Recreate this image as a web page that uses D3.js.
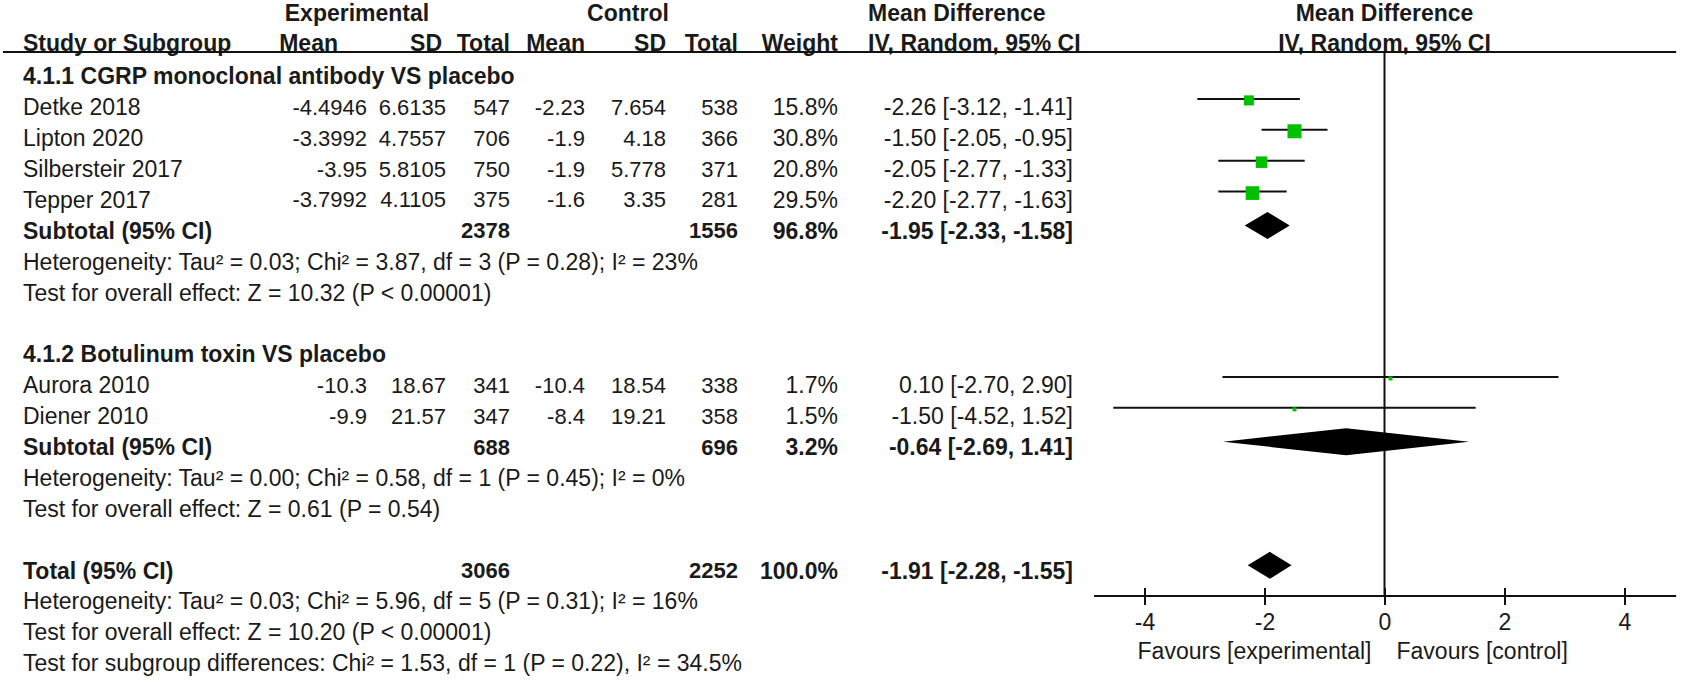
<!DOCTYPE html>
<html>
<head>
<meta charset="utf-8">
<script src="https://cdn.jsdelivr.net/npm/d3@7"></script>
<style>
  body { margin: 0; background: #fff; }
  svg { display: block; font-family: "Liberation Sans", Arial, sans-serif; }
  text { fill: #1a1a1a; }
</style>
</head>
<body>
<div id="chart"></div>
<script>
// study level data
const studies = ["Detke 2018", "Lipton 2020", "Silbersteir 2017", "Tepper 2017", "Aurora 2010", "Diener 2010"];
const studyGroup = [0, 0, 0, 0, 1, 1];
const expMean = [-4.4946, -3.3992, -3.95, -3.7992, -10.3, -9.9];
const expSD = [6.6135, 4.7557, 5.8105, 4.1105, 18.67, 21.57];
const expTotal = [547, 706, 750, 375, 341, 347];
const ctrlMean = [-2.23, -1.9, -1.9, -1.6, -10.4, -8.4];
const ctrlSD = [7.654, 4.18, 5.778, 3.35, 18.54, 19.21];
const ctrlTotal = [538, 366, 371, 281, 338, 358];
const weight = [15.8, 30.8, 20.8, 29.5, 1.7, 1.5];
const md = [-2.26, -1.5, -2.05, -2.2, 0.1, -1.5];
const mdLow = [-3.12, -2.05, -2.77, -2.77, -2.7, -4.52];
const mdHigh = [-1.41, -0.95, -1.33, -1.63, 2.9, 1.52];

// subgroups
const groupNames = ["4.1.1 CGRP monoclonal antibody VS placebo", "4.1.2 Botulinum toxin VS placebo"];
const subExpTotal = [2378, 688];
const subCtrlTotal = [1556, 696];
const subWeight = [96.8, 3.2];
const subMd = [-1.95, -0.64];
const subLow = [-2.33, -2.69];
const subHigh = [-1.58, 1.41];
const subHet = [
  "Heterogeneity: Tau² = 0.03; Chi² = 3.87, df = 3 (P = 0.28); I² = 23%",
  "Heterogeneity: Tau² = 0.00; Chi² = 0.58, df = 1 (P = 0.45); I² = 0%"
];
const subTest = ["Test for overall effect: Z = 10.32 (P < 0.00001)", "Test for overall effect: Z = 0.61 (P = 0.54)"];

// overall
const totExpTotal = 3066;
const totCtrlTotal = 2252;
const totWeight = 100.0;
const totMd = -1.91;
const totLow = -2.28;
const totHigh = -1.55;
const totNotes = [
  "Heterogeneity: Tau² = 0.03; Chi² = 5.96, df = 5 (P = 0.31); I² = 16%",
  "Test for overall effect: Z = 10.20 (P < 0.00001)",
  "Test for subgroup differences: Chi² = 1.53, df = 1 (P = 0.22), I² = 34.5%"
];

const tickValues = [-4, -2, 0, 2, 4];
const axisDomain = [-4.84, 4.86];

const width = 1699, height = 683;
const fs = 23;   // labels
const fsNum = 22; // number columns

const svg = d3.select("#chart").append("svg").attr("width", width).attr("height", height);

// column right edges
const col = {
  study: 23, eMeanHead: 338, eMean: 367, eSDHead: 442, eSD: 446, eN: 510,
  cMean: 585, cSD: 666, cN: 738, w: 838, ci: 1073, mdHead: 868
};

const x = d3.scaleLinear().domain([-4, 4]).range([1144.5, 1624.5]);
const rowY = d3.scaleLinear().domain([0, 19]).range([76, 663]);
const axisY = 596;
const headY = 52;

function ciText(m, l, h) {
  return `${m.toFixed(2)} [${l.toFixed(2)}, ${h.toFixed(2)}]`;
}

function addText(tx, ty, str, anchor, bold, size) {
  return svg.append("text")
    .attr("x", tx)
    .attr("y", ty)
    .attr("dy", "0.36em")
    .attr("text-anchor", anchor || "start")
    .attr("font-weight", bold ? "bold" : "normal")
    .attr("font-size", size || fs)
    .text(str);
}

// headers
addText(357, 13, "Experimental", "middle", true);
addText(628, 13, "Control", "middle", true);
addText(col.mdHead, 13, "Mean Difference", "start", true);
addText(x(0), 13, "Mean Difference", "middle", true);
addText(col.study, 43, "Study or Subgroup", "start", true);
addText(col.eMeanHead, 43, "Mean", "end", true);
addText(col.eSDHead, 43, "SD", "end", true);
addText(col.eN, 43, "Total", "end", true);
addText(col.cMean, 43, "Mean", "end", true);
addText(col.cSD, 43, "SD", "end", true);
addText(col.cN, 43, "Total", "end", true);
addText(col.w, 43, "Weight", "end", true);
addText(col.mdHead, 43, "IV, Random, 95% CI", "start", true);
addText(x(0), 43, "IV, Random, 95% CI", "middle", true);

svg.append("line")
  .attr("x1", 3).attr("x2", x(axisDomain[1]))
  .attr("y1", headY).attr("y2", headY)
  .attr("stroke", "#111").attr("stroke-width", 2);

// row index of each study inside its group block
const groupStart = [0, 9];
const studyRow = [];
let counter = [0, 0];
studies.forEach((s, i) => {
  const g = studyGroup[i];
  counter[g] += 1;
  studyRow.push(groupStart[g] + counter[g]);
});

// zero line
svg.append("line")
  .attr("x1", x(0)).attr("x2", x(0))
  .attr("y1", headY).attr("y2", axisY)
  .attr("stroke", "#111").attr("stroke-width", 2);

// group blocks
groupNames.forEach((name, g) => {
  const r0 = groupStart[g];
  const nStud = studyGroup.filter((d) => d === g).length;
  const rs = r0 + nStud + 1;
  addText(col.study, rowY(r0), name, "start", true);
  addText(col.study, rowY(rs), "Subtotal (95% CI)", "start", true);
  addText(col.eN, rowY(rs), subExpTotal[g], "end", true, fsNum);
  addText(col.cN, rowY(rs), subCtrlTotal[g], "end", true, fsNum);
  addText(col.w, rowY(rs), subWeight[g].toFixed(1) + "%", "end", true);
  addText(col.ci, rowY(rs), ciText(subMd[g], subLow[g], subHigh[g]), "end", true);
  addText(col.study, rowY(rs + 1), subHet[g]);
  addText(col.study, rowY(rs + 2), subTest[g]);
});

// study rows
studies.forEach((s, i) => {
  const yy = rowY(studyRow[i]);
  addText(col.study, yy, s);
  addText(col.eMean, yy, expMean[i], "end", false, fsNum);
  addText(col.eSD, yy, expSD[i], "end", false, fsNum);
  addText(col.eN, yy, expTotal[i], "end", false, fsNum);
  addText(col.cMean, yy, ctrlMean[i], "end", false, fsNum);
  addText(col.cSD, yy, ctrlSD[i], "end", false, fsNum);
  addText(col.cN, yy, ctrlTotal[i], "end", false, fsNum);
  addText(col.w, yy, weight[i].toFixed(1) + "%", "end");
  addText(col.ci, yy, ciText(md[i], mdLow[i], mdHigh[i]), "end");
});

const boxSize = d3.scaleSqrt().domain([0, 30.8]).range([0, 14]);
const side = (i) => Math.max(4, boxSize(weight[i]));

const rows = svg.selectAll("g.study")
  .data(studies)
  .enter()
  .append("g")
  .attr("class", "study");

rows.append("line")
  .attr("x1", (d, i) => x(mdLow[i]))
  .attr("x2", (d, i) => x(mdHigh[i]))
  .attr("y1", (d, i) => rowY(studyRow[i]) - 8)
  .attr("y2", (d, i) => rowY(studyRow[i]) - 8)
  .attr("stroke", "#111")
  .attr("stroke-width", 2);

rows.append("rect")
  .attr("x", (d, i) => x(md[i]) - side(i) / 2)
  .attr("y", (d, i) => rowY(studyRow[i]) - 6.5 - side(i) / 2)
  .attr("width", (d, i) => side(i))
  .attr("height", (d, i) => side(i))
  .attr("fill", "#00c000");

// diamonds
function diamond(m, l, h, yy) {
  const cy = yy - 5, hh = 13.5;
  svg.append("path")
    .attr("d", `M${x(l)},${cy} L${x(m)},${cy - hh} L${x(h)},${cy} L${x(m)},${cy + hh} Z`)
    .attr("fill", "#000");
}
diamond(subMd[0], subLow[0], subHigh[0], rowY(5));
diamond(subMd[1], subLow[1], subHigh[1], rowY(12));

// total block
const rt = 16;
addText(col.study, rowY(rt), "Total (95% CI)", "start", true);
addText(col.eN, rowY(rt), totExpTotal, "end", true, fsNum);
addText(col.cN, rowY(rt), totCtrlTotal, "end", true, fsNum);
addText(col.w, rowY(rt), totWeight.toFixed(1) + "%", "end", true);
addText(col.ci, rowY(rt), ciText(totMd, totLow, totHigh), "end", true);
totNotes.forEach((t, k) => addText(col.study, rowY(rt + 1 + k), t));
diamond(totMd, totLow, totHigh, rowY(rt));

// axis
const axis = svg.append("g")
  .attr("transform", `translate(0,${axisY})`)
  .call(d3.axisBottom(x).tickValues(tickValues).tickSize(9).tickPadding(9).tickFormat(d3.format("d")));
axis.select(".domain").remove();
axis.append("line")
  .attr("x1", x(axisDomain[0])).attr("x2", x(axisDomain[1]))
  .attr("stroke", "#111").attr("stroke-width", 2);
axis.selectAll(".tick line").attr("y1", -8).attr("y2", 9).attr("stroke", "#111").attr("stroke-width", 2);
axis.selectAll(".tick text")
  .attr("font-size", 23)
  .attr("font-family", "Liberation Sans, Arial, sans-serif")
  .attr("fill", "#1a1a1a")
  .text((d) => (d < 0 ? "-" + Math.abs(d) : d));

addText(x(0) - 13, 651, "Favours [experimental]", "end", false, 23);
addText(x(0) + 12, 651, "Favours [control]", "start", false, 23);
</script>
</body>
</html>
